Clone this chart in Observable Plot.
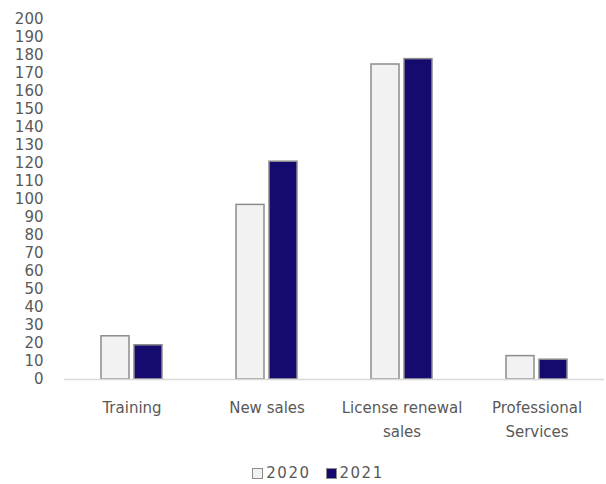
<!DOCTYPE html>
<html>
<head>
<meta charset="utf-8">
<script src="https://cdn.jsdelivr.net/npm/d3@7"></script>
<script src="https://cdn.jsdelivr.net/npm/@observablehq/plot@0.6"></script>
<style>
  html, body { margin: 0; padding: 0; background: #fff; }
  #chart { width: 606px; }
  .legend { display: flex; justify-content: center; gap: 15px; font-family: "DejaVu Sans", sans-serif; font-size: 15px; letter-spacing: 1.5px; color: #595959; margin-top: 14px; padding-left: 30px; }
  .legend span.item { display: inline-flex; align-items: center; gap: 3px; }
  .legend span.sw { display: inline-block; width: 9px; height: 9px; border: 1.5px solid #8c8c8c; }
</style>
</head>
<body>
<div id="chart"></div>
<script>
const categories = ["Training", "New sales", "License renewal\nsales", "Professional\nServices"];
const years = ["2020", "2021"];
const values2020 = [24, 97, 175, 13];
const values2021 = [19, 121, 178, 11];
const yTicks = d3.range(0, 201, 10);
const colors = ["#f2f2f2", "#150a6e"];

const data = [];
categories.forEach((c, i) => {
  data.push({category: c, year: years[0], value: values2020[i]});
  data.push({category: c, year: years[1], value: values2021[i]});
});

const font = "DejaVu Sans, sans-serif";
const chart = Plot.plot({
  width: 606,
  height: 450,
  marginLeft: 63,
  marginRight: 1,
  marginTop: 19,
  marginBottom: 71,
  style: {fontFamily: font, fontSize: "15px", color: "#595959", background: "#fff"},
  fx: {domain: categories, padding: 0, label: null},
  x: {domain: years, paddingInner: 0.147, paddingOuter: 1.066, axis: null},
  y: {domain: [0, 200], ticks: yTicks, label: null},
  color: {domain: years, range: colors},
  marks: [
    Plot.axisY({ticks: yTicks, tickSize: 0, tickPadding: 21, label: null, fill: "#595959"}),
    Plot.axisFx({anchor: "bottom", tickSize: 0, tickPadding: 16, label: null, fill: "#595959", lineHeight: 1.6, style: {letterSpacing: "0.4px"}}),
    Plot.barY(data, {fx: "category", x: "year", y: "value", fill: "year", stroke: "#8c8c8c", strokeWidth: 1.5}),
    Plot.ruleY([0], {stroke: "#d9d9d9", strokeWidth: 1.5})
  ]
});
document.getElementById("chart").appendChild(chart);

const legend = document.createElement("div");
legend.className = "legend";
years.forEach((y, i) => {
  const item = document.createElement("span");
  item.className = "item";
  const sw = document.createElement("span");
  sw.className = "sw";
  sw.style.background = colors[i];
  item.appendChild(sw);
  item.appendChild(document.createTextNode(y));
  legend.appendChild(item);
});
document.getElementById("chart").appendChild(legend);
</script>
</body>
</html>
